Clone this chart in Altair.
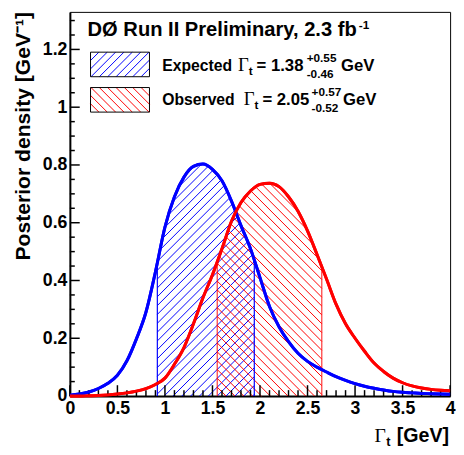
import altair as alt
import numpy as np
import pandas as pd

# ---------------- data ----------------
gamma_t = [0.0, 0.1, 0.2, 0.3, 0.4, 0.5, 0.6, 0.7, 0.8, 0.9,
           1.0, 1.1, 1.2, 1.3, 1.4, 1.5, 1.6, 1.7, 1.8, 1.9,
           2.0, 2.1, 2.2, 2.3, 2.4, 2.5, 2.6, 2.7, 2.8, 2.9,
           3.0, 3.1, 3.2, 3.3, 3.4, 3.5, 3.6, 3.7, 3.8, 3.9, 4.0]
expected_density = [0.003, 0.007, 0.014, 0.026, 0.044, 0.072, 0.122, 0.198, 0.290, 0.430,
                    0.585, 0.690, 0.758, 0.795, 0.803, 0.785, 0.745, 0.675, 0.590, 0.510,
                    0.410, 0.310, 0.240, 0.188, 0.148, 0.120, 0.100, 0.083, 0.067, 0.054,
                    0.043, 0.034, 0.027, 0.021, 0.016, 0.013, 0.011, 0.009, 0.008, 0.007, 0.006]
observed_density = [0.000, 0.000, 0.001, 0.002, 0.004, 0.007, 0.011, 0.017, 0.026, 0.040,
                    0.062, 0.110, 0.168, 0.250, 0.340, 0.420, 0.510, 0.605, 0.670, 0.710,
                    0.733, 0.737, 0.725, 0.690, 0.640, 0.572, 0.490, 0.405, 0.318, 0.250,
                    0.200, 0.155, 0.114, 0.085, 0.062, 0.046, 0.035, 0.028, 0.023, 0.020, 0.018]
expected_band = [0.92, 1.94]
observed_band = [1.55, 2.65]
x_major = [0, 0.5, 1, 1.5, 2, 2.5, 3, 3.5, 4]
x_minor = [0.1, 0.2, 0.3, 0.4, 0.6, 0.7, 0.8, 0.9, 1.1, 1.2, 1.3, 1.4, 1.6, 1.7, 1.8, 1.9,
           2.1, 2.2, 2.3, 2.4, 2.6, 2.7, 2.8, 2.9, 3.1, 3.2, 3.3, 3.4, 3.6, 3.7, 3.8, 3.9]
y_major = [0, 0.2, 0.4, 0.6, 0.8, 1.0, 1.2]
y_minor = [0.05, 0.1, 0.15, 0.25, 0.3, 0.35, 0.45, 0.5, 0.55, 0.65, 0.7, 0.75,
           0.85, 0.9, 0.95, 1.05, 1.1, 1.15, 1.25, 1.3]

# ---------------- geometry ----------------
W, H = 387, 391
X_MAX, Y_MAX = 4.0, 1.33
PX_X = W / X_MAX
PX_Y = H / Y_MAX
BLUE = "#0000ff"
RED = "#ff0000"
SANS = "Liberation Sans"
SERIF = "Liberation Serif"

xscale = alt.Scale(domain=[0, X_MAX], nice=False, zero=False)
yscale = alt.Scale(domain=[0, Y_MAX], nice=False, zero=False)

x_axis = alt.Axis(values=x_major, format="~g", labelFont=SANS, labelFontSize=18,
                  labelFontWeight="bold", labelColor="black", ticks=False, grid=False,
                  domainColor="black", domainWidth=2, labelPadding=4, labelFlush=False,
                  labelOverlap=False, title=None)
y_axis = alt.Axis(values=y_major, format="~g", labelFont=SANS, labelFontSize=18,
                  labelFontWeight="bold", labelColor="black", ticks=False, grid=False,
                  domainColor="black", domainWidth=2, labelPadding=3, labelFlush=False,
                  labelOverlap=False, title=None)


def hatch_under_curve(grid, dens, lo, hi, direction, spacing_px):
    s = spacing_px / PX_X
    k = PX_X / PX_Y
    fmax = max(dens)
    xs = np.linspace(lo, hi, 2000)
    f = np.interp(xs, grid, dens)
    rows = []
    if direction == "/":
        cs = np.arange(lo - fmax / k - s, hi + s, s)
    else:
        cs = np.arange(lo - s, hi + fmax / k + s, s)
    for c in cs:
        yl = k * (xs - c) if direction == "/" else k * (c - xs)
        m = (yl >= 0) & (yl <= f)
        idx = np.nonzero(m)[0]
        if len(idx) < 2:
            continue
        i0, i1 = idx[0], idx[-1]
        rows.append({"x": xs[i0], "y": yl[i0], "x2": xs[i1], "y2": yl[i1]})
    return pd.DataFrame(rows)


def hatch_box(xl, xr, yt, yb, direction, spacing_px):
    # pixel coordinates relative to plot origin, converted to data space
    pxs = np.linspace(xl, xr, 600)
    rows = []
    cs = np.arange(xl - (yb - yt) - spacing_px, xr + (yb - yt) + spacing_px, spacing_px)
    for c in cs:
        if direction == "/":
            py = yb - (pxs - c)
        else:
            py = yt + (pxs - c)
        m = (py >= yt) & (py <= yb)
        idx = np.nonzero(m)[0]
        if len(idx) < 2:
            continue
        i0, i1 = idx[0], idx[-1]
        rows.append({"x": pxs[i0] / PX_X, "y": (H - py[i0]) / PX_Y,
                     "x2": pxs[i1] / PX_X, "y2": (H - py[i1]) / PX_Y})
    return pd.DataFrame(rows)


def rules(df, color, width=1.0, opacity=1.0):
    return alt.Chart(df).mark_rule(color=color, strokeWidth=width, opacity=opacity).encode(
        x=alt.X("x:Q", scale=xscale, axis=x_axis), x2="x2:Q",
        y=alt.Y("y:Q", scale=yscale, axis=y_axis), y2="y2:Q")


def band_edges(grid, dens, band):
    vals = np.interp(band, grid, dens)
    return pd.DataFrame({"x": band, "x2": band, "y": [0, 0], "y2": vals})


one = pd.DataFrame({"a": [0]})


def label(text, x, y, size, font=SANS, weight="bold", align="left", angle=0, color="black"):
    return alt.Chart(one).mark_text(
        text=text, font=font, fontSize=size, fontWeight=weight, align=align,
        baseline="alphabetic", angle=angle, color=color).encode(
        x=alt.value(x), y=alt.value(y))


# ---------------- layers ----------------
curve_df = pd.DataFrame({"gamma": gamma_t, "exp": expected_density, "obs": observed_density})

blue_curve = alt.Chart(curve_df).mark_line(color=BLUE, strokeWidth=3, interpolate="monotone").encode(
    x=alt.X("gamma:Q", scale=xscale, axis=x_axis),
    y=alt.Y("exp:Q", scale=yscale, axis=y_axis))
red_curve = alt.Chart(curve_df).mark_line(color=RED, strokeWidth=3, interpolate="monotone").encode(
    x=alt.X("gamma:Q", scale=xscale, axis=x_axis),
    y=alt.Y("obs:Q", scale=yscale, axis=y_axis))

blue_hatch = rules(hatch_under_curve(gamma_t, expected_density, *expected_band, "/", 9), BLUE)
red_hatch = rules(hatch_under_curve(gamma_t, observed_density, *observed_band, "\\", 9), RED)
blue_edges = rules(band_edges(gamma_t, expected_density, expected_band), BLUE, 1.2)
red_edges = rules(band_edges(gamma_t, observed_density, observed_band), RED, 1.2, 0.8)

xt_major = alt.Chart(pd.DataFrame({"v": x_major})).mark_rule(color="black", strokeWidth=1.5).encode(
    x=alt.X("v:Q", scale=xscale, axis=x_axis), y=alt.value(H), y2=alt.value(H - 11))
xt_minor = alt.Chart(pd.DataFrame({"v": x_minor})).mark_rule(color="black", strokeWidth=1.5).encode(
    x=alt.X("v:Q", scale=xscale, axis=x_axis), y=alt.value(H), y2=alt.value(H - 6))
yt_major = alt.Chart(pd.DataFrame({"v": y_major})).mark_rule(color="black", strokeWidth=1.5).encode(
    y=alt.Y("v:Q", scale=yscale, axis=y_axis), x=alt.value(0), x2=alt.value(10))
yt_minor = alt.Chart(pd.DataFrame({"v": y_minor})).mark_rule(color="black", strokeWidth=1.5).encode(
    y=alt.Y("v:Q", scale=yscale, axis=y_axis), x=alt.value(0), x2=alt.value(5))

# legend swatches
box_blue = (21, 81, 41, 66)
box_red = (21, 81, 77, 102)
leg_blue_hatch = rules(hatch_box(*box_blue, "/", 8.5), BLUE)
leg_red_hatch = rules(hatch_box(*box_red, "\\", 8.5), RED)


def box(b):
    return alt.Chart(one).mark_rect(fillOpacity=0, stroke="black", strokeWidth=1).encode(
        x=alt.value(b[0]), x2=alt.value(b[1]), y=alt.value(b[2]), y2=alt.value(b[3]))


texts = [
    label("DØ Run II Preliminary, 2.3 fb", 18, 25, 20.5),
    label("-1", 294, 17, 12),
    # expected line
    label("Expected", 94, 60, 16),
    label("Γ", 171, 60, 19, font=SERIF, weight="normal"),
    label("t", 182, 64, 12),
    label("= 1.38", 190, 60, 17),
    label("+0.55", 241, 51, 12),
    label("-0.46", 241, 67, 12),
    label("GeV", 276, 60, 17),
    # observed line
    label("Observed", 94, 95, 16),
    label("Γ", 177, 95, 19, font=SERIF, weight="normal"),
    label("t", 188, 99, 12),
    label("= 2.05", 196, 95, 17),
    label("+0.57", 246, 86, 12),
    label("-0.52", 246, 102, 12),
    label("GeV", 278, 95, 17),
    # axis titles
    label("[GeV]", 386, 438, 20, align="right"),
    label("t", 322, 442, 13),
    label("Γ", 310, 438, 20, font=SERIF, weight="normal"),
    label("Posterior density [GeV⁻¹]", -41, 0, 21.5, align="right", angle=270),
]

chart = alt.layer(
    blue_curve, red_curve,
    blue_hatch, red_hatch, blue_edges, red_edges,
    xt_major, xt_minor, yt_major, yt_minor,
    leg_blue_hatch, leg_red_hatch, box(box_blue), box(box_red),
    blue_curve, red_curve,
    *texts,
).properties(
    width=W, height=H,
    autosize=alt.AutoSizeParams(type="none"),
    padding={"left": 63, "top": 0, "right": 6, "bottom": 52},
).configure_view(stroke="black", strokeWidth=1)

chart.save("out.html", embed_options={"renderer": "svg", "actions": False})
